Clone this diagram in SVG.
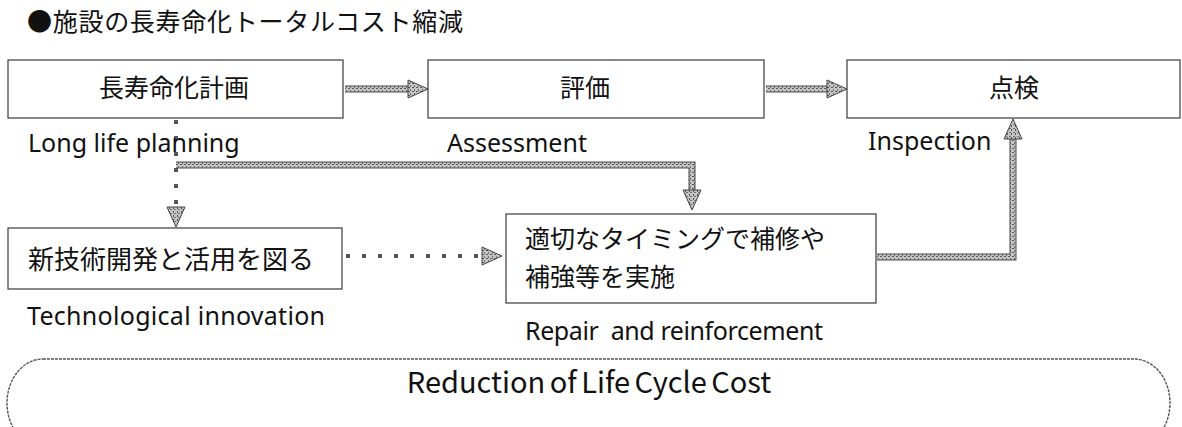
<svg xmlns="http://www.w3.org/2000/svg" width="1182" height="427" viewBox="0 0 1182 427">
<style>
.box{fill:#fff;stroke:#3a3a3a;stroke-width:1.2}
.jp{font-family:"Noto Sans CJK JP","Noto Sans",sans-serif;fill:#111}
.en{font-family:"Noto Sans","Noto Sans CJK JP",sans-serif;fill:#111;font-size:25px}
.sho{fill:none;stroke:#4a4a4a;stroke-width:7}
.sh{fill:none;stroke:url(#hatch);stroke-width:5}
.dash{fill:none;stroke:#555;stroke-width:4;stroke-dasharray:4 12}
.cost{fill:none;stroke:#555;stroke-width:1.4;stroke-dasharray:3 1}
</style>
<defs>
<pattern id="hatch" width="4" height="4" patternUnits="userSpaceOnUse">
<rect width="4" height="4" fill="#c4c4c4"/>
<rect width="2" height="1" fill="#555"/>
<rect x="2" y="2" width="1" height="2" fill="#707070"/>
</pattern>
<marker id="ah" markerUnits="userSpaceOnUse" markerWidth="22" markerHeight="22" refX="0" refY="10" orient="auto" overflow="visible">
<path d="M0 1 L20 10 L0 19 Z" fill="url(#hatch)" stroke="#444" stroke-width="1"/>
</marker>
</defs>

<text class="jp" x="27" y="31" font-size="25" textLength="436" lengthAdjust="spacing">●施設の長寿命化トータルコスト縮減</text>

<g id="connectors">
<path class="sho" d="M345 89 H408"/>
<path class="sh" d="M345 89 H408" marker-end="url(#ah)"/>
<path class="sho" d="M766 89 H827"/>
<path class="sh" d="M766 89 H827" marker-end="url(#ah)"/>
<path class="dash" d="M176 120 V207" marker-end="url(#ah)"/>
<path class="sho" d="M176 165 H692 V190" stroke-linejoin="miter"/>
<path class="sh" d="M176 165 H692 V190" marker-end="url(#ah)"/>
<path class="dash" d="M346 256 H482" marker-end="url(#ah)"/>
<path class="sho" d="M877 257 H1013 V139"/>
<path class="sh" d="M877 257 H1013 V139" marker-end="url(#ah)"/>
</g>

<g id="node-plan">
<rect class="box" x="8" y="60" width="335" height="58"/>
<text class="jp" x="174" y="97" font-size="25" text-anchor="middle">長寿命化計画</text>
<text class="en" x="28" y="152">Long life planning</text>
</g>

<g id="node-assessment">
<rect class="box" x="428" y="60" width="336" height="58"/>
<text class="jp" x="585" y="97" font-size="25" text-anchor="middle">評価</text>
<text class="en" x="447" y="152">Assessment</text>
</g>

<g id="node-inspection">
<rect class="box" x="847" y="60" width="333" height="58"/>
<text class="jp" x="1014" y="97" font-size="25" text-anchor="middle">点検</text>
<text class="en" x="868" y="150">Inspection</text>
</g>

<g id="node-tech">
<rect class="box" x="8" y="228" width="334" height="61"/>
<text class="jp" x="28" y="269" font-size="26">新技術開発と活用を図る</text>
<text class="en" x="27" y="325" textLength="298" lengthAdjust="spacing">Technological innovation</text>
</g>

<g id="node-repair">
<rect class="box" x="506" y="214" width="370" height="89"/>
<text class="jp" x="525" y="248" font-size="25">適切なタイミングで補修や</text>
<text class="jp" x="525" y="286" font-size="25">補強等を実施</text>
<text class="en" x="525" y="340" xml:space="preserve" textLength="298" lengthAdjust="spacing">Repair  and reinforcement</text>
</g>

<g id="node-cost">
<rect class="cost" x="7" y="359" width="1163" height="88" rx="36" ry="44"/>
<text class="jp" x="589" y="393" font-size="29" text-anchor="middle" word-spacing="-2">Reduction of Life Cycle Cost</text>
</g>
</svg>
